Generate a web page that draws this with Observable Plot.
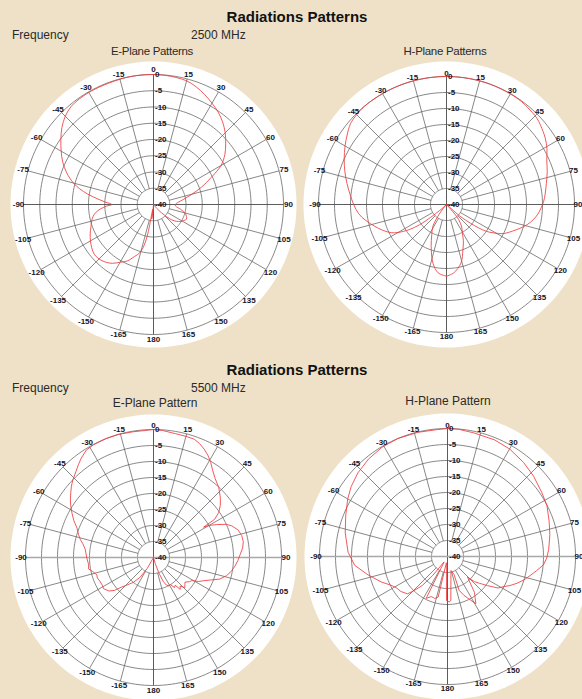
<!DOCTYPE html>
<html><head><meta charset="utf-8">
<script src="https://cdn.jsdelivr.net/npm/d3@7"></script>
<script src="https://cdn.jsdelivr.net/npm/@observablehq/plot@0.6"></script>
<style>
html,body{margin:0;padding:0;}
body{width:582px;height:699px;overflow:hidden;background:#efe1c7;font-family:"Liberation Sans",Arial,sans-serif;}
#page{position:relative;width:582px;height:699px;overflow:hidden;}
.t{position:absolute;white-space:nowrap;color:#2a2a2a;}
.c{transform:translateX(-50%);}
.title{font-weight:bold;font-size:15px;line-height:18px;color:#111;}
.freq{font-size:12px;line-height:14px;}
.sub{font-size:11.5px;line-height:13px;letter-spacing:-0.3px;}
.sub2{font-size:12px;line-height:14px;}
.plot{position:absolute;}
</style></head><body><div id="page"></div>
<script>
// ---- data ----
const dbRings = [-35, -30, -25, -20, -15, -10, -5, 0];
const dbTickValues = [0, -5, -10, -15, -20, -25, -30, -35, -40];
const dbTickLabels = ["0", "-5", "-10", "-15", "-20", "-25", "-30", "-35", "-40"];
const angleTicks = [0, 15, 30, 45, 60, 75, 90, 105, 120, 135, 150, 165, 180, -165, -150, -135, -120, -105, -90, -75, -60, -45, -30, -15];
const angleTickLabels = ["0", "15", "30", "45", "60", "75", "90", "105", "120", "135", "150", "165", "180", "-165", "-150", "-135", "-120", "-105", "-90", "-75", "-60", "-45", "-30", "-15"];

const titles = ["Radiations Patterns", "Radiations Patterns"];
const freqLabel = "Frequency";
const freqs = ["2500 MHz", "5500 MHz"];
const planeTitles = ["E-Plane Patterns", "H-Plane Patterns", "E-Plane Pattern", "H-Plane Pattern"];

// E-plane 2500 MHz (angle deg, level dB)
const e2500Angle = [-180,-175,-173,-171,-169,-167,-164,-160,-155,-150,-145,-140,-135,-130,-125,-120,-115,-110,-105,-101,-98,-95,-92,-90,-87,-84,-81,-78,-75,-70,-65,-60,-55,-50,-45,-40,-35,-30,-25,-20,-15,-10,-5,0,5,10,15,20,25,30,35,40,45,50,55,60,65,70,75,80,85,90,94,100,106,110,114,118,122,126,130,133,136,140,145,150,160,170,180];
const e2500Db = [-40,-38,-35.5,-38.5,-31,-27,-24.5,-23,-20.8,-19.5,-17.9,-16.9,-16.3,-16.2,-16.8,-17.6,-18.5,-19.5,-20.3,-21.1,-22,-23.5,-25.5,-27.2,-25,-22.5,-19.5,-16.8,-14.5,-11.6,-9.2,-7.2,-5.2,-3.2,-1.6,-0.6,-0.3,-0.2,-0.2,-0.2,-0.1,0,0,0,-0.1,-0.3,-0.6,-1.5,-2.7,-4,-5.3,-6.9,-8.8,-11,-13.2,-16,-20.5,-24.2,-27.8,-30.5,-32.4,-33.3,-33.2,-31.5,-29.8,-29.2,-28.9,-29.5,-30.2,-31.2,-32.6,-34.5,-36.5,-38.5,-40,-40,-40,-40,-40];

// H-plane 2500 MHz
const h2500Angle = [-180,-173,-167,-160,-154,-148,-144,-140,-136,-132,-129,-127,-124,-120,-117,-112,-107,-101,-96,-90,-84,-78,-72,-66,-60,-55,-50,-45,-40,-30,-20,-10,0,10,20,30,36,40,46,50,56,61,66,72,78,84,88,92,96,100,104,108,112,117,121,124,126,128,131,134,138,141,146,151,155,160,166,174,180];
const h2500Db = [-17.6,-18.5,-21.2,-26,-29.5,-32,-35.3,-38.5,-40,-38,-33.5,-29.5,-26,-22.5,-20.6,-18.5,-16.6,-14.2,-12.4,-11,-9.7,-8.2,-6.6,-5,-3.4,-2.1,-0.8,-0.3,0,0,0,0,0,0,0,-0.1,-0.2,-0.5,-0.9,-1.6,-2.8,-4.1,-5.7,-6.9,-8.1,-9,-9.6,-10.4,-11.3,-12.5,-14,-15.9,-17.8,-20,-22.8,-25,-27.5,-30.5,-34.5,-40,-38,-34,-31.5,-29.8,-27.5,-25,-21.2,-18.5,-17.6];

// E-plane 5500 MHz
const e5500Angle = [-180,-160,-153,-150,-146,-141,-136,-133,-130,-127,-122,-118,-114,-110,-107,-103,-100,-96,-91,-87,-83,-79,-76,-73,-69,-65,-61,-58,-55,-52,-49,-46,-42,-39,-36,-32,-28,-22,-16,-9,-3,0,4,10,15,19,22,25,28,31,34,38,43,48,52,55.5,58,58.8,60,62.5,65.5,68,72,76,80,84,88,92,96,100,104,108,111,115,118,121,124,128,131,134,137,140,142,145,148,152,155,158,161,164,167,180];
const e5500Db = [-40,-40,-40,-36,-32.6,-30,-28,-26.5,-24,-22.6,-21.6,-21.8,-21.7,-21.3,-21.5,-20.5,-19.4,-19.6,-19.2,-18.9,-18.5,-17.5,-16.4,-15.5,-14.4,-12.5,-10.8,-9.5,-8.3,-7.2,-6,-5,-3.8,-2.7,-1.6,-0.4,-0.1,0,0,-0.2,-0.2,0,-0.2,-0.7,-0.8,-0.9,-1.6,-2.6,-3.8,-5.3,-7,-8.7,-10.1,-11.9,-13.5,-15.3,-17.5,-21.7,-20,-17.7,-15,-13.6,-12.2,-11.6,-11.5,-12,-12.9,-13.6,-14.4,-15.3,-16.5,-18.2,-20.5,-22.8,-24,-26,-26.5,-27.5,-27,-26.4,-27.8,-27,-29,-28.5,-30,-30,-30.5,-32,-35,-38,-40,-40];

// H-plane 5500 MHz (path order, clockwise from 0)
const h5500Angle = [0,5,12,22,30,39,47,56,63,71,78,86,91,95,99,103,107,111,115,118,122,126,130,133,136,143,149,152,157,161,160,166,175.7,178,-178.7,-175,-170,-167,-163,-158,-153,-148,-142,-139,-135.6,-133,-127,-121,-117,-111,-103,-95.5,-87.5,-77,-68,-60,-54,-47,-39,-31,-23,-13.5,-4.5,0];
const h5500Db = [0,-0.1,-0.5,-0.7,-1.2,-2.2,-3.2,-4.4,-5.1,-6.4,-7.3,-8.3,-9,-9.9,-11.8,-13.5,-15,-16.7,-18.5,-20,-21.4,-24.5,-27,-28.5,-31,-26,-22.8,-24.5,-26.8,-28.8,-34,-35.5,-26.2,-25.8,-26.2,-37,-38,-27,-26.3,-26.5,-25.3,-38,-32.4,-28,-25.1,-22.9,-21.8,-21.2,-20.2,-17.8,-14.5,-10.9,-8.9,-7.2,-5.7,-4,-2.8,-1.7,-0.8,-0.2,0,-0.1,-0.2,0];

// ---- layout ----
const page = document.getElementById("page");
function addText(cls, txt, left, top) {
  const d = document.createElement("div");
  d.className = "t " + cls;
  d.textContent = txt;
  d.style.left = left + "px";
  d.style.top = top + "px";
  page.appendChild(d);
}
addText("title c", titles[0], 297, 8);
addText("freq", freqLabel, 12, 28);
addText("freq", freqs[0], 191, 28);
addText("sub c", planeTitles[0], 152, 45);
addText("sub c", planeTitles[1], 445, 45);
addText("title c", titles[1], 297, 361);
addText("freq", freqLabel, 12, 381);
addText("freq", freqs[1], 191, 381);
addText("sub2 c", planeTitles[2], 155, 396);
addText("sub2 c", planeTitles[3], 448, 394);

const SIZE = 290, HALF = SIZE / 2;
const rad = a => a * Math.PI / 180;

function panel(angles, dbs, R0, cx, cy, curve, hAxisStyle, labOffset) {
  const D = 40 * HALF / R0;            // data units spanning half the svg
  const u = px => px * 40 / R0;        // px -> radial units
  const pol = (a, db) => {
    const r = Math.max(0, db + 40);
    return {x: r * Math.sin(rad(a)), y: r * Math.cos(rad(a))};
  };
  const pattern = angles.map((a, i) => pol(a, dbs[i]));
  const rings = dbRings.flatMap(db => d3.range(0, 361, 2).map(a => ({db, ...pol(a, db)})));
  const diskR = u(143);
  const disk = d3.range(0, 361, 2).map(a => ({x: diskR * Math.sin(rad(a)), y: diskR * Math.cos(rad(a))}));
  const spokes = angleTicks.filter(a => a % 90 !== 0).map(a => {
    const p1 = pol(a, -35), p2 = pol(a, 0);
    return {x1: p1.x, y1: p1.y, x2: p2.x, y2: p2.y};
  });
  const vAxis = [{x1: 0, y1: -40, x2: 0, y2: 40}];
  const hAxis = [{x1: -40, y1: 0, x2: 40, y2: 0}];
  const labR = 40 + u(labOffset);
  const angLabels = angleTicks.map((a, i) => ({x: labR * Math.sin(rad(a)), y: labR * Math.cos(rad(a)), t: angleTickLabels[i]}));
  const dbLabels = dbTickValues.map((v, i) => ({x: 0, y: v + 40, t: dbTickLabels[i]}));
  const grid = "#606060";
  const chart = Plot.plot({
    width: SIZE, height: SIZE, margin: 0, inset: 0,
    x: {domain: [-D, D], axis: null},
    y: {domain: [-D, D], axis: null},
    style: {background: "transparent", overflow: "visible", fontFamily: '"Liberation Sans Narrow","Arial Narrow","Liberation Sans",Arial,sans-serif'},
    marks: [
      Plot.line(disk, {x: "x", y: "y", fill: "white", stroke: "none"}),
      Plot.line(rings, {x: "x", y: "y", z: "db", stroke: grid, strokeWidth: 0.75}),
      Plot.link(spokes, {x1: "x1", y1: "y1", x2: "x2", y2: "y2", stroke: grid, strokeWidth: 0.75}),
      Plot.link(vAxis, {x1: "x1", y1: "y1", x2: "x2", y2: "y2", stroke: "#4a4a4a", strokeWidth: 0.9}),
      Plot.link(hAxis, {x1: "x1", y1: "y1", x2: "x2", y2: "y2", stroke: hAxisStyle.stroke, strokeWidth: hAxisStyle.width}),
      Plot.line(pattern, {x: "x", y: "y", stroke: "#f23a3c", strokeWidth: 0.85, curve}),
      Plot.text(angLabels, {x: "x", y: "y", text: "t", fontSize: 8, fontWeight: "bold", fill: "#141428"}),
      Plot.text(dbLabels, {x: "x", y: "y", text: "t", dx: 1.5, textAnchor: "start", fontSize: 8, fontWeight: "bold", fill: "#141428"})
    ]
  });
  chart.classList.add("plot");
  chart.style.left = (cx - HALF) + "px";
  chart.style.top = (cy - HALF) + "px";
  chart.style.position = "absolute";
  page.appendChild(chart);
}

panel(e2500Angle, e2500Db, 130, 153.3, 204.3, "catmull-rom", {stroke: "#4a4a4a", width: 0.9}, 5);
panel(h2500Angle, h2500Db, 128, 445.7, 204.3, "catmull-rom", {stroke: "#4a4a4a", width: 0.9}, 3.5);
panel(e5500Angle, e5500Db, 128, 153.3, 557, "linear", {stroke: "#a8a8a8", width: 1.6}, 4.5);
panel(h5500Angle, h5500Db, 128, 446.7, 556, "linear", {stroke: "#a8a8a8", width: 1.6}, 3.5);
</script>
</body></html>
